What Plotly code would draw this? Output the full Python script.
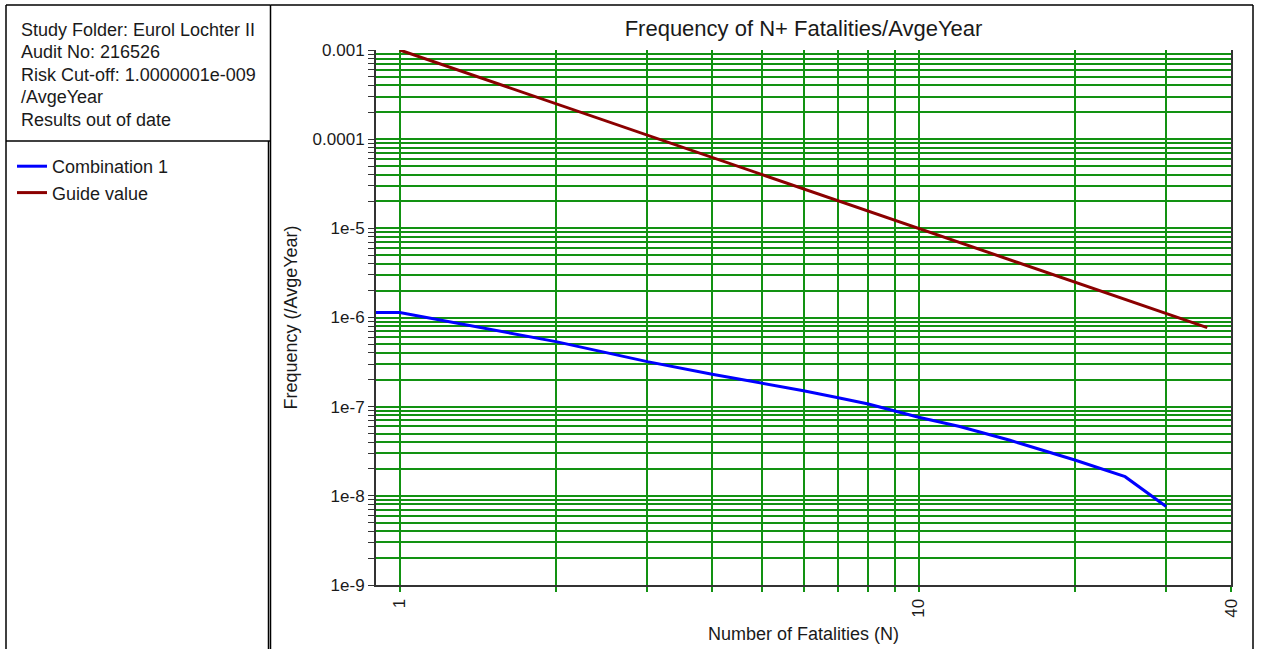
import plotly.graph_objects as go

# ---------------- data ----------------
combo_n = [0.5, 1, 2, 3, 4, 5, 6, 7, 8, 9, 10, 12, 15, 20, 25, 30]
combo_f = [1.14e-6, 1.14e-6, 5.36e-7, 3.2e-7, 2.31e-7, 1.83e-7, 1.51e-7, 1.26e-7,
           1.07e-7, 8.95e-8, 7.6e-8, 6.0e-8, 4.2e-8, 2.52e-8, 1.64e-8, 7.6e-9]

guide_n = [1, 2, 5, 10, 20, 36]
guide_f = [1e-3, 2.5e-4, 4e-5, 1e-5, 2.5e-6, 7.7e-7]

x_tick_vals = [1, 2, 3, 4, 5, 6, 7, 8, 9, 10, 20, 30, 40]
x_tick_text = ["1", "", "", "", "", "", "", "", "", "10", "", "", "40"]

y_decades = [1e-9, 1e-8, 1e-7, 1e-6, 1e-5, 1e-4, 1e-3]
y_decade_labels = ["1e-9", "1e-8", "1e-7", "1e-6", "1e-5", "0.0001", "0.001"]

info_lines = ["Study Folder: Eurol Lochter II", "Audit No: 216526",
              "Risk Cut-off: 1.0000001e-009", "/AvgeYear", "Results out of date"]

# ---------------- geometry helpers ----------------
W, H = 1261, 649
L, R, T, B = 376, 1231, 50, 585


def px(x):
    return (x - L) / (R - L)


def py(y):
    return (B - y) / (B - T)


FONT = "Liberation Sans, Arial, sans-serif"
TXT = "#1a1a1a"
GRID = "#129212"

# y ticks: every 1..9 within each decade
y_tick_vals, y_tick_text = [], []
for i, d in enumerate(y_decades):
    y_tick_vals.append(d)
    y_tick_text.append(y_decade_labels[i])
    if i < len(y_decades) - 1:
        for k in range(2, 10):
            y_tick_vals.append(k * d)
            y_tick_text.append("")

fig = go.Figure()
fig.add_trace(go.Scatter(x=combo_n, y=combo_f, mode="lines", name="Combination 1",
                         line=dict(color="#0000ff", width=3)))
fig.add_trace(go.Scatter(x=guide_n, y=guide_f, mode="lines", name="Guide value",
                         line=dict(color="#8b0000", width=3)))

shapes = []
line = dict(color="#000000", width=1.5)
# left panel
shapes.append(dict(type="line", xref="paper", yref="paper", x0=px(6), x1=px(6), y0=py(5), y1=py(700), line=line))
shapes.append(dict(type="line", xref="paper", yref="paper", x0=px(6), x1=px(270.5), y0=py(5), y1=py(5), line=line))
shapes.append(dict(type="line", xref="paper", yref="paper", x0=px(6), x1=px(270.5), y0=py(141), y1=py(141), line=line))
shapes.append(dict(type="line", xref="paper", yref="paper", x0=px(268.5), x1=px(268.5), y0=py(141), y1=py(700), line=line))
# main panel
shapes.append(dict(type="line", xref="paper", yref="paper", x0=px(270.5), x1=px(270.5), y0=py(5), y1=py(700), line=line))
shapes.append(dict(type="line", xref="paper", yref="paper", x0=px(270.5), x1=px(1253), y0=py(5), y1=py(5), line=line))
shapes.append(dict(type="line", xref="paper", yref="paper", x0=px(1253), x1=px(1253), y0=py(5), y1=py(700), line=line))

annotations = []
centers = [30, 52, 75, 97, 120]
for txt, cy in zip(info_lines, centers):
    annotations.append(dict(text=txt, xref="paper", yref="paper", x=px(19), y=py(cy),
                            xanchor="left", yanchor="middle", showarrow=False,
                            font=dict(family=FONT, size=18, color=TXT)))

fig.update_layout(
    width=W, height=H,
    margin=dict(l=L, r=W - R, t=T, b=H - B, pad=0, autoexpand=False),
    paper_bgcolor="white", plot_bgcolor="white",
    font=dict(family=FONT, color=TXT),
    title=dict(text="Frequency of N+ Fatalities/AvgeYear", x=px((L + R) / 2), xref="paper",
               xanchor="center", y=1 - 28 / H, yref="container", yanchor="middle",
               font=dict(family=FONT, size=22, color=TXT)),
    showlegend=True,
    legend=dict(x=px(12), y=py(148), xanchor="left", yanchor="top",
                bgcolor="rgba(0,0,0,0)", borderwidth=0,
                font=dict(family=FONT, size=18, color=TXT)),
    shapes=shapes,
    annotations=annotations,
    xaxis=dict(type="log", range=[-0.045757, 1.60206], automargin=False,
               tickvals=x_tick_vals, ticktext=x_tick_text, tickangle=-90,
               ticks="outside", ticklen=5, tickcolor=GRID, tickwidth=1.5,
               showgrid=True, gridcolor=GRID, gridwidth=1.5,
               showline=True, linecolor="#333333", linewidth=2, mirror=False,
               zeroline=False, tickfont=dict(family=FONT, size=17, color=TXT),
               title=dict(text="Number of Fatalities (N)", standoff=11,
                          font=dict(family=FONT, size=18, color=TXT))),
    yaxis=dict(type="log", range=[-9, -3], automargin=False,
               tickvals=y_tick_vals, ticktext=y_tick_text,
               ticks="outside", ticklen=6, tickcolor="#333333", tickwidth=1,
               showgrid=True, gridcolor=GRID, gridwidth=1.5,
               showline=True, linecolor="#333333", linewidth=2, mirror=True,
               zeroline=False, tickfont=dict(family=FONT, size=17, color=TXT),
               title=dict(text="Frequency (/AvgeYear)", standoff=10,
                          font=dict(family=FONT, size=18, color=TXT))),
)

fig.write_html("out.html", post_script="document.body.style.margin='0';",
               config={"displayModeBar": False})
